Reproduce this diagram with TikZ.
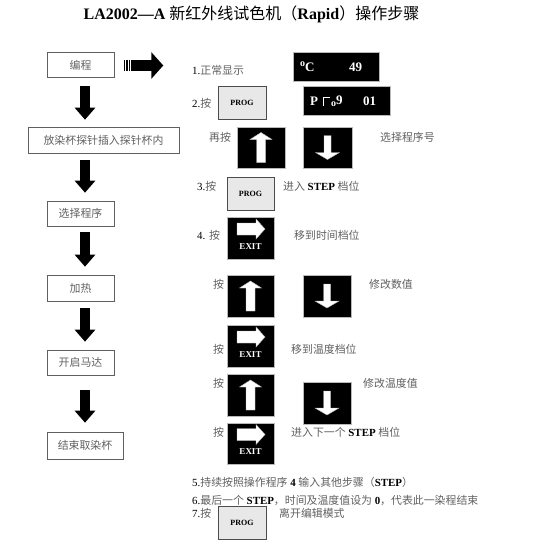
\documentclass[tikz,border=0pt]{standalone}
\usepackage{fontspec}
\setmainfont{Liberation Serif}
\newfontfamily\cjk{Noto Sans CJK SC}
\usetikzlibrary{arrows.meta,calc}
\definecolor{zhgray}{gray}{0.38}
\newcommand{\zh}[1]{{\cjk\color{zhgray}#1}}
\tikzset{
  txt/.style={anchor=west,inner sep=0pt,font=\fontsize{10.9}{12}\selectfont},
  flowbox/.style={draw=gray!75!black,line width=0.6pt,minimum height=25pt,inner sep=0pt,font=\fontsize{10.9}{12}\selectfont},
  bigdown/.style={line width=10pt,-{Triangle[width=20pt,length=12pt]}},
  bigright/.style={line width=11pt,-{Triangle[width=26pt,length=12pt]}},
  keybox/.style={fill=black,draw=gray!55,line width=0.8pt,minimum width=47pt,minimum height=41pt,inner sep=0pt},
  progbox/.style={fill=black!9,draw=gray!60!black,line width=0.8pt,minimum width=48pt,minimum height=33pt,inner sep=0pt,font=\bfseries\fontsize{8}{9}\selectfont},
  dispbox/.style={fill=black,draw=gray!55,line width=0.6pt,minimum height=29pt,inner sep=0pt},
  disptxt/.style={anchor=west,inner sep=0pt,text=white,font=\bfseries\fontsize{13}{14}\selectfont},
  glyph/.style={fill=white,draw=gray!60,line width=0.4pt},
  upglyph/.pic={\filldraw[glyph] (0,-15) -- (11,-8) -- (4.5,-8) -- (4.5,15) -- (-4.5,15) -- (-4.5,-8) -- (-11,-8) -- cycle;},
  downglyph/.pic={\filldraw[glyph] (0,12) -- (12,5) -- (3.5,5) -- (3.5,-12) -- (-3.5,-12) -- (-3.5,5) -- (-12,5) -- cycle;},
  exitglyph/.pic={\filldraw[glyph] (-13.5,-15) -- (5.5,-15) -- (5.5,-19) -- (14.5,-9) -- (5.5,1) -- (5.5,-3) -- (-13.5,-3) -- cycle;
    \node[inner sep=0pt,text=white,font=\bfseries\fontsize{9}{10}\selectfont] at (0,8.5) {EXIT};}
}
\begin{document}
\begin{tikzpicture}[x=1pt,y=-1pt]
\useasboundingbox[fill=white] (0,0) rectangle (554,549);

% title
\node[inner sep=0pt,font=\fontsize{16}{18}\selectfont] (title) at (251.5,14)
  {\textbf{LA2002—A} {\cjk 新红外线试色机（}\textbf{Rapid}{\cjk ）操作步骤}};

% left flow
\coordinate (axis) at (85,0);
\node[flowbox,minimum width=67pt] (b1) at (80.5,65) {\zh{编程}};
\node[flowbox,minimum width=151pt,minimum height=26pt] (b2) at (103.5,140) {\zh{放染杯探针插入探针杯内}};
\node[flowbox,minimum width=67pt] (b3) at (80.5,213.5) {\zh{选择程序}};
\node[flowbox,minimum width=67pt,minimum height=26pt] (b4) at (80.5,288) {\zh{加热}};
\node[flowbox,minimum width=67pt] (b5) at (80.5,362.5) {\zh{开启马达}};
\node[flowbox,minimum width=76pt,minimum height=27pt] (b6) at (85,445.5) {\zh{结束取染杯}};

\draw[bigdown] ($(b1.south -| axis)+(0,8)$) -- ($(b2.north -| axis)+(0,-7)$);
\draw[bigdown] ($(b2.south -| axis)+(0,7)$) -- ($(b3.north -| axis)+(0,-8)$);
\draw[bigdown] ($(b3.south -| axis)+(0,6)$) -- ($(b4.north -| axis)+(0,-8)$);
\draw[bigdown] ($(b4.south -| axis)+(0,7)$) -- ($(b5.north -| axis)+(0,-8)$);
\draw[bigdown] ($(b5.south -| axis)+(0,15)$) -- ($(b6.north -| axis)+(0,-9)$);

\coordinate (r1end) at ($(b1.east)+(49,0.5)$);
\draw[bigright] ($(b1.east)+(10,0.5)$) -- (r1end);
\foreach \dx in {11.5,14,16.5}
  \draw[white,line width=0.7pt] ($(b1.east)+(\dx,-5)$) -- ++(0,11);

% step 1
\node[txt] (t1) at (192,70) {1.\zh{正常显示}};
\node[dispbox,minimum width=86pt] (d1) at (336,66.5) {};
\node[disptxt] (d1a) at (300,67) {\raisebox{5pt}{\fontsize{10}{10}\selectfont o}C};
\node[disptxt] (d1b) at (349,67) {49};

% step 2
\node[txt] (t2) at (192,103) {2.\zh{按}};
\node[progbox] (p1) at (242,102.5) {PROG};
\node[dispbox,minimum width=87pt] (d2) at (346.5,100.5) {};
\node[disptxt] (d2a) at (310,101) {P};
\draw[white,line width=1.6pt] (323.5,106) -- (323.5,97.5) -- (330,97.5);
\node[disptxt] (d2b) at (331,101) {\raisebox{-1.5pt}{\fontsize{10}{10}\selectfont o}9};
\node[disptxt] (d2c) at (363,101) {01};

\node[txt] (t2b) at (209,137) {\zh{再按}};
\node[keybox,minimum width=48pt] (u1) at (261,147.5) {};
\pic at (u1.center) {upglyph};
\node[keybox,minimum width=49pt] (dn1) at (327.5,147.5) {};
\pic at (dn1.center) {downglyph};
\node[txt] (t2c) at (380,137) {\zh{选择程序号}};

% step 3
\node[txt] (t3) at (197,186) {3.\zh{按}};
\node[progbox,minimum width=47pt] (p2) at (250.5,193.5) {PROG};
\node[txt] (t3b) at (283,186) {\zh{进入} \textbf{STEP} \zh{档位}};

% step 4
\node[txt] (t4) at (197,235) {4. \zh{按}};
\node[keybox,minimum height=42pt] (e1) at (250.5,238) {};
\pic at (e1.center) {exitglyph};
\node[txt] (t4b) at (294,235) {\zh{移到时间档位}};

\node[txt] (t5) at (213,284) {\zh{按}};
\node[keybox,minimum height=42pt] (u2) at (250.5,296) {};
\pic at (u2.center) {upglyph};
\node[keybox,minimum width=48pt,minimum height=42pt] (dn2) at (327,296) {};
\pic at (dn2.center) {downglyph};
\node[txt] (t5b) at (369,284) {\zh{修改数值}};

\node[txt] (t6) at (213,349) {\zh{按}};
\node[keybox,minimum height=42pt] (e2) at (250.5,346) {};
\pic at (e2.center) {exitglyph};
\node[txt] (t6b) at (291,349) {\zh{移到温度档位}};

\node[txt] (t7) at (213,383) {\zh{按}};
\node[keybox,minimum height=42pt] (u3) at (250.5,395) {};
\pic at (u3.center) {upglyph};
\node[keybox,minimum width=48pt,minimum height=42pt] (dn3) at (327,403) {};
\pic at (dn3.center) {downglyph};
\node[txt] (t7b) at (363,383) {\zh{修改温度值}};

\node[txt] (t8) at (213,432) {\zh{按}};
\node[keybox,minimum height=41pt] (e3) at (250.5,443.5) {};
\pic at (e3.center) {exitglyph};
\node[txt] (t8b) at (291,432) {\zh{进入下一个} \textbf{STEP} \zh{档位}};

% steps 5-7
\node[txt] (t9) at (192,482) {5.\zh{持续按照操作程序} \textbf{4} \zh{输入其他步骤（}\textbf{STEP}\zh{）}};
\node[txt] (t10) at (192,500) {6.\zh{最后一个} \textbf{STEP}\zh{，时间及温度值设为} \textbf{0}\zh{，代表此一染程结束}};
\node[txt] (t11) at (192,513) {7.\zh{按}};
\node[progbox] (p3) at (242,522.5) {PROG};
\node[txt] (t11b) at (279,513) {\zh{离开编辑模式}};
\end{tikzpicture}
\end{document}
